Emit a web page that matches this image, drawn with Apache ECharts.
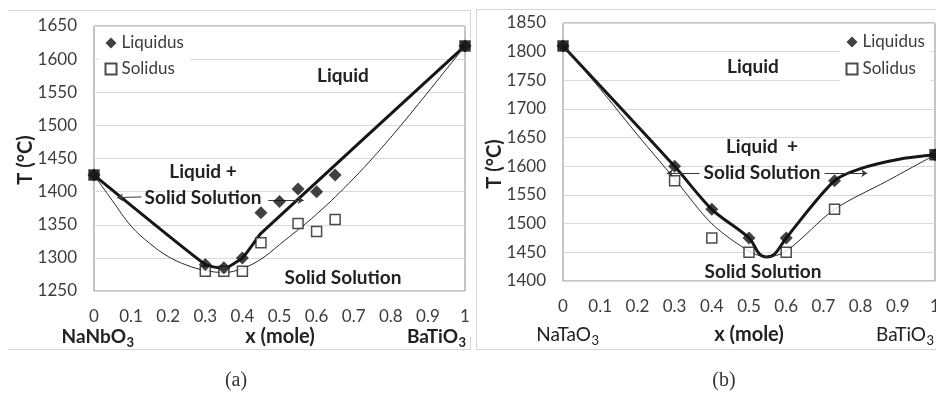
<!DOCTYPE html>
<html>
<head>
<meta charset="utf-8">
<script src="https://cdn.jsdelivr.net/npm/echarts@6/dist/echarts.min.js"></script>
<style>
  html, body { margin: 0; padding: 0; background: #fff; }
  #chart { width: 936px; height: 393px; }
</style>
</head>
<body>
<div id="chart"></div>
<script>
// ---- (a) NaNbO3 – BaTiO3 : measured liquidus / solidus points ----
const liqA_x = [0, 0.3, 0.35, 0.4, 0.45, 0.5, 0.55, 0.6, 0.65, 1];
const liqA_T = [1425, 1290, 1285, 1300, 1368, 1385, 1404, 1400, 1425, 1620];
const solA_x = [0, 0.3, 0.35, 0.4, 0.45, 0.55, 0.6, 0.65, 1];
const solA_T = [1425, 1280, 1280, 1280, 1323, 1352, 1340, 1358, 1620];
// (a) guide curves through the phase boundaries
const liqCurveA_x = [0, 0.3, 0.35, 0.4, 0.425, 0.45, 1];
const liqCurveA_T = [1425, 1290, 1284, 1300, 1318, 1337, 1620];
const solCurveA_x = [0, 0.05, 0.1, 0.15, 0.2, 0.25, 0.3, 0.35, 0.4, 0.45, 0.5, 0.6, 0.7, 0.8, 0.9, 1];
const solCurveA_T = [1425, 1386, 1348, 1322, 1302, 1289, 1281, 1278, 1284, 1298, 1320, 1366, 1420, 1482, 1550, 1620];

// ---- (b) NaTaO3 – BaTiO3 ----
const liqB_x = [0, 0.3, 0.4, 0.5, 0.6, 0.73, 1];
const liqB_T = [1810, 1600, 1525, 1475, 1475, 1575, 1620];
const solB_x = [0, 0.3, 0.4, 0.5, 0.6, 0.73, 1];
const solB_T = [1810, 1575, 1475, 1450, 1450, 1525, 1620];
const liqCurveB_x = [0, 0.3, 0.4, 0.5, 0.528, 0.547, 0.569, 0.6, 0.73, 0.8, 0.9, 1];
const liqCurveB_T = [1810, 1600, 1525, 1475, 1447, 1442, 1447, 1475, 1575, 1596, 1612, 1620];
const solCurveB_x = [0, 0.1, 0.2, 0.3, 0.4, 0.5, 0.547, 0.6, 0.73, 0.87, 1];
const solCurveB_T = [1810, 1735, 1655, 1578, 1500, 1452, 1442, 1452, 1525, 1574, 1620];

// annotation arrows [from, to] in data units
const arrowsA = [[[0.128, 1392], [0.062, 1391]], [[0.470, 1387], [0.565, 1387]]];
const arrowsB = [[[0.367, 1588], [0.279, 1588]], [[0.703, 1588], [0.818, 1588]]];

// axis ranges
const xRange = [0, 1, 0.1];
const yRangeA = [1250, 1650, 50];
const yRangeB = [1400, 1850, 50];

const FONT = 'Lato, "Open Sans", sans-serif';
const TICK = '#3c3c3c';
const INK = '#222';

const pairs = (xs, ys) => xs.map((x, i) => [x, ys[i]]);
const squares = (xs, ys) => xs.map((x, i) => {
  const item = { value: [x, ys[i]] };
  if (x === 0 || x === 1) item.itemStyle = { color: '#1e1e1e' };
  return item;
});
const xTickFmt = v => (v === 0 ? '0' : v === 1 ? '1' : v.toFixed(1));
const yTickFmt = v => String(Math.round(v));

function xAxisFor(g) {
  return {
    gridIndex: g, type: 'value', min: xRange[0], max: xRange[1], interval: xRange[2],
    axisLine: { show: false }, axisTick: { show: false }, splitLine: { show: false },
    axisLabel: { margin: 17, fontSize: 17, color: TICK, fontFamily: FONT, formatter: xTickFmt, hideOverlap: false }
  };
}
function yAxisFor(g, r) {
  return {
    gridIndex: g, type: 'value', min: r[0], max: r[1], interval: r[2],
    axisLine: { show: false }, axisTick: { show: false },
    splitLine: { lineStyle: { color: '#d9d9d9', width: 1 } },
    axisLabel: { margin: 17, fontSize: 17, color: TICK, fontFamily: FONT, formatter: yTickFmt }
  };
}
function curve(name, g, xs, ys, width, smooth) {
  return {
    name, type: 'line', xAxisIndex: g, yAxisIndex: g, data: pairs(xs, ys),
    symbol: 'none', smooth, z: 2, silent: true,
    lineStyle: { color: width > 2 ? '#161616' : '#2a2a2a', width }
  };
}
function arrows(name, g, list) {
  return {
    name, type: 'lines', coordinateSystem: 'cartesian2d', xAxisIndex: g, yAxisIndex: g,
    symbol: ['none', 'arrow'], symbolSize: 6, z: 3, silent: true,
    lineStyle: { color: '#3a3a3a', width: 1, opacity: 1 },
    data: list.map(c => ({ coords: c }))
  };
}
function solidus(g, xs, ys) {
  return {
    name: 'Solidus', type: 'scatter', xAxisIndex: g, yAxisIndex: g, data: squares(xs, ys),
    symbol: 'rect', symbolSize: 10, z: 4,
    itemStyle: { color: '#fff', borderColor: '#1e1e1e', borderWidth: 1.5 }
  };
}
function liquidus(g, xs, ys) {
  return {
    name: 'Liquidus', type: 'scatter', xAxisIndex: g, yAxisIndex: g, data: pairs(xs, ys),
    symbol: 'diamond', symbolSize: 13, z: 5,
    itemStyle: { color: '#111' }
  };
}
function legendAt(left, top, gap) {
  return {
    orient: 'vertical', left, top, padding: [4, 6], itemGap: gap,
    itemWidth: 11, itemHeight: 11, backgroundColor: '#fff', selectedMode: false,
    textStyle: { fontSize: 17, color: TICK, fontFamily: FONT, lineHeight: 16 },
    data: [{ name: 'Liquidus', icon: 'diamond' }, { name: 'Solidus', icon: 'rect' }]
  };
}

// text helpers for the annotations
function label(x, y, text, o = {}) {
  return {
    type: 'text', x, y, rotation: o.rot || 0, z: 10,
    style: {
      text, fill: o.color || INK, fontFamily: o.family || FONT,
      fontSize: o.size || 19, fontWeight: o.weight || 'bold',
      align: o.align || 'center', verticalAlign: 'middle'
    }
  };
}
function formula(xRight, y, main, sub, weight) {
  return [
    label(xRight, y, main, { align: 'right', weight, size: 19 }),
    label(xRight + 0.5, y + 6, sub, { align: 'left', weight, size: 13 })
  ];
}
function hline(x1, x2, y) {
  return { type: 'line', shape: { x1, y1: y + 0.5, x2, y2: y + 0.5 }, style: { stroke: '#d6d6d6', lineWidth: 1 }, z: 0 };
}
function vline(x, y1, y2) {
  return { type: 'line', shape: { x1: x + 0.5, y1, x2: x + 0.5, y2 }, style: { stroke: '#d6d6d6', lineWidth: 1 }, z: 0 };
}

const chart = echarts.init(document.getElementById('chart'), null, { renderer: 'canvas' });
chart.setOption({
  animation: false,
  backgroundColor: '#fff',
  grid: [
    { left: 94, top: 26, width: 371, height: 265, show: true, borderColor: '#8a8a8a', borderWidth: 1, outerBoundsMode: 'none' },
    { left: 563, top: 23, width: 372, height: 258, show: true, borderColor: '#8a8a8a', borderWidth: 1, outerBoundsMode: 'none' }
  ],
  xAxis: [xAxisFor(0), xAxisFor(1)],
  yAxis: [yAxisFor(0, yRangeA), yAxisFor(1, yRangeB)],
  legend: [legendAt(98.5, 30.5, 9), legendAt(839.5, 29.5, 10)],
  series: [
    curve('liquidus line a', 0, liqCurveA_x, liqCurveA_T, 3, 0.15),
    curve('solidus line a', 0, solCurveA_x, solCurveA_T, 1, 0.4),
    arrows('arrows a', 0, arrowsA),
    solidus(0, solA_x, solA_T),
    liquidus(0, liqA_x, liqA_T),
    curve('liquidus line b', 1, liqCurveB_x, liqCurveB_T, 3, 0.3),
    curve('solidus line b', 1, solCurveB_x, solCurveB_T, 1, 0.3),
    arrows('arrows b', 1, arrowsB),
    solidus(1, solB_x, solB_T),
    liquidus(1, liqB_x, liqB_T)
  ],
  graphic: [
    // figure frames
    hline(8, 471, 10), hline(8, 471, 349), vline(470, 10, 50), vline(470, 337, 350),
    hline(477, 936, 9), hline(477, 936, 349), vline(476, 9, 350),

    // (a) region labels
    label(343, 76, 'Liquid'),
    label(203, 172, 'Liquid +'),
    label(203, 198, 'Solid Solution'),
    label(343, 278, 'Solid Solution'),
    // (a) axis titles
    label(26, 160, 'T (°C)', { rot: Math.PI / 2, size: 20 }),
    label(280, 337, 'x (mole)', { size: 20 }),
    ...formula(126, 337, 'NaNbO', '3', 'bold'),
    ...formula(458, 337, 'BaTiO', '3', 'bold'),

    // (b) region labels
    label(753, 67, 'Liquid'),
    label(762, 147, 'Liquid  +'),
    label(762, 173, 'Solid Solution'),
    label(763, 272, 'Solid Solution'),
    // (b) axis titles
    label(495, 164, 'T (°C)', { rot: Math.PI / 2, size: 20 }),
    label(749, 335, 'x (mole)', { size: 20 }),
    ...formula(591, 335, 'NaTaO', '3', 'normal'),
    ...formula(926, 335, 'BaTiO', '3', 'normal'),

    // captions
    label(236, 381, '(a)', { family: '"Liberation Serif", serif', weight: 'normal', size: 20, color: '#333' }),
    label(724, 381, '(b)', { family: '"Liberation Serif", serif', weight: 'normal', size: 20, color: '#333' })
  ]
});
</script>
</body>
</html>
